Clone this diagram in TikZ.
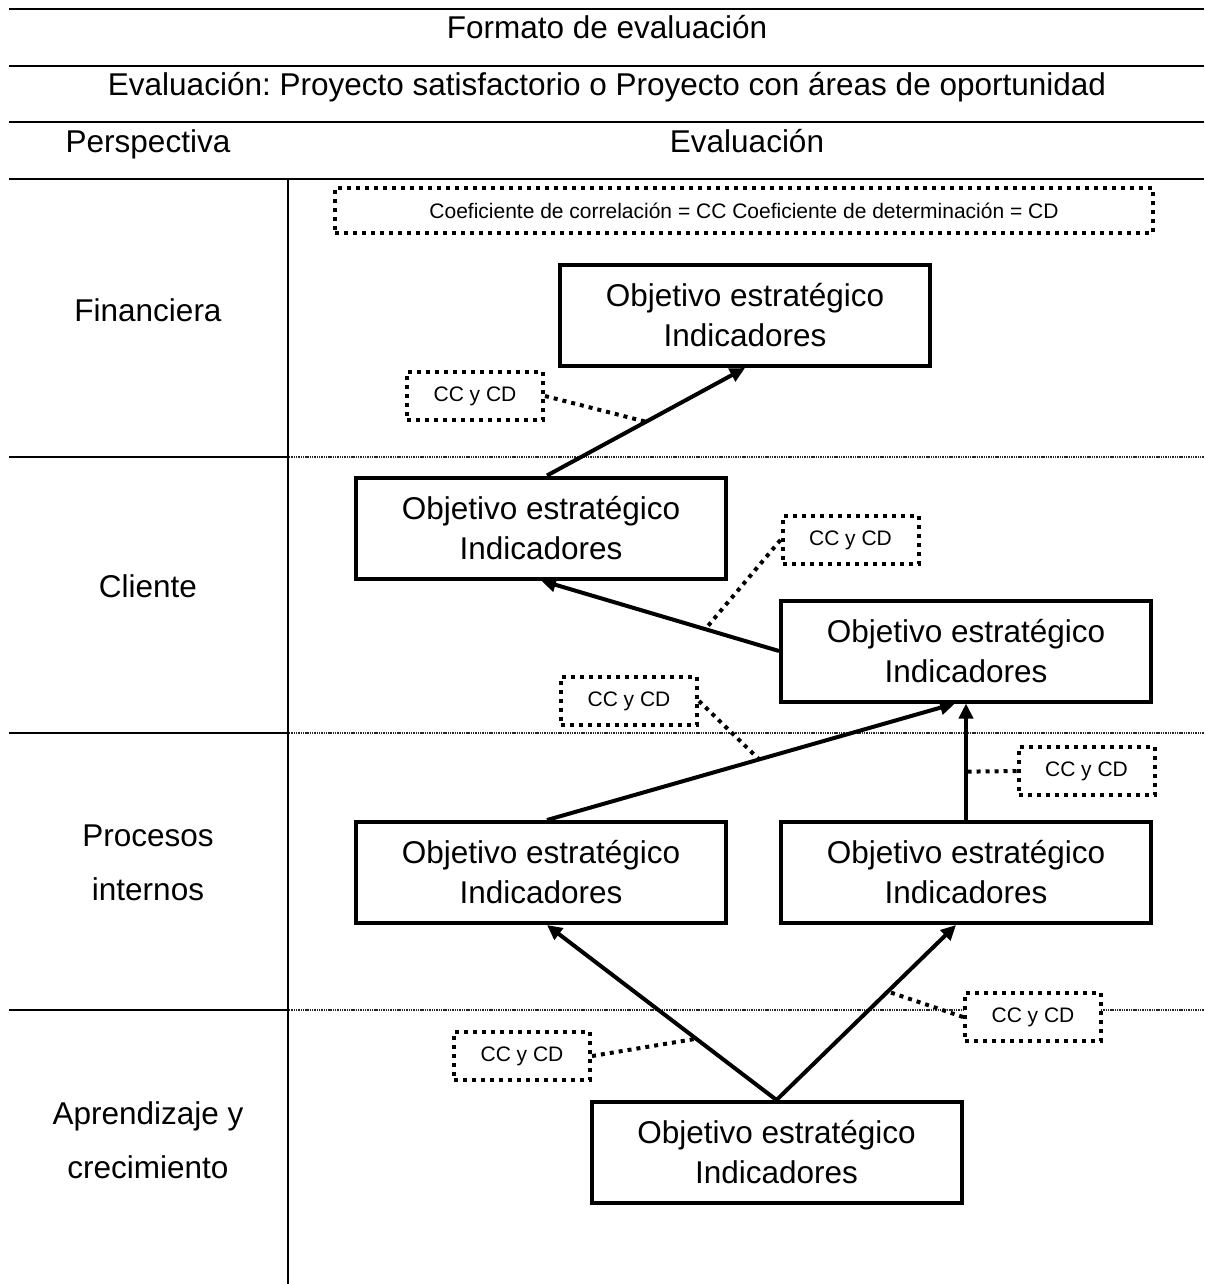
\documentclass[tikz,border=0pt]{standalone}
\usepackage{fontspec}
\setmainfont{Liberation Sans}
\usetikzlibrary{arrows.meta,calc}
\frenchspacing

\begin{document}
\begin{tikzpicture}[x=1pt,y=-1pt,
  rule/.style={line width=2pt},
  band/.style={line width=1.3pt, black!85, dash pattern=on 1.4pt off 0.9pt},
  bigtext/.style={font=\fontsize{31.5}{40}\selectfont, inner sep=0pt},
  sidelabel/.style={font=\fontsize{31.5}{54}\selectfont, align=center, inner sep=0pt},
  objbox/.style={draw, line width=4pt, minimum width=370pt, minimum height=101pt,
    align=center, inner sep=0pt, fill=white, font=\fontsize{31.5}{40}\selectfont},
  notebox/.style={draw, line width=4pt, dash pattern=on 4pt off 5pt, fill=white,
    minimum width=136pt, minimum height=48pt, inner sep=0pt,
    font=\fontsize{21}{25}\selectfont},
  link/.style={line width=4pt, -{Triangle[length=15pt,width=14pt]}},
  tie/.style={line width=4pt, dash pattern=on 4pt off 5pt},
]
\useasboundingbox (0,0) rectangle (1204,1284);

% table rules
\draw[rule] (9,9) -- (1204,9);
\draw[rule] (9,66) -- (1204,66);
\draw[rule] (9,122) -- (1204,122);
\draw[rule] (9,179) -- (1204,179);
\draw[rule] (288,179) -- (288,1284);
\foreach \yy in {457,733,1010}{
  \draw[rule] (9,\yy) -- (288,\yy);
  \draw[band] (289,\yy) -- (1204,\yy);
}

% header texts
\node[bigtext, anchor=base] (title) at (607,39) {Formato de evaluación};
\node[bigtext, anchor=base] (scale) at (607,96) {Evaluación: Proyecto satisfactorio o Proyecto con áreas de oportunidad};
\node[bigtext, anchor=base] (hpersp) at (148,153) {Perspectiva};
\node[bigtext, anchor=base] (heval) at (747,153) {Evaluación};

% perspectives
\node[bigtext, anchor=base] (pfin) at (148,321) {Financiera};
\node[bigtext, anchor=base] (pcli) at (148,597) {Cliente};
\node[sidelabel] (pproc) at (148,863) {Procesos\\internos};
\node[sidelabel] (papr) at (148,1140) {Aprendizaje y\\crecimiento};

% legend
\node[notebox, minimum width=818pt, minimum height=45pt] (legend) at (744,210.5)
  {Coeficiente de correlación = CC Coeficiente de determinación = CD};

% strategic objectives
\node[objbox] (B1) at (745,315.5) {Objetivo estratégico\\Indicadores};
\node[objbox] (B2) at (541,528) {Objetivo estratégico\\Indicadores};
\node[objbox] (B3) at (966,651) {Objetivo estratégico\\Indicadores};
\node[objbox] (B4) at (541,872.5) {Objetivo estratégico\\Indicadores};
\node[objbox] (B5) at (966,872.5) {Objetivo estratégico\\Indicadores};
\node[objbox] (B6) at (776.5,1152.5) {Objetivo estratégico\\Indicadores};

% cause-effect links
\draw[link] ([xshift=6pt]B2.north) -- coordinate[pos=0.5] (t1) (B1.south);
\draw[link] (B3.west) -- coordinate[pos=0.31] (t2) (B2.south);
\draw[link] ([xshift=6pt]B4.north) -- coordinate[pos=0.52] (t3) ([xshift=-11pt]B3.south);
\draw[link] (B5.north) -- coordinate[pos=0.415] (t4) (B3.south);
\draw[link] (B6.north) -- coordinate[pos=0.35] (t5) ([xshift=6pt]B4.south);
\draw[link] (B6.north) -- coordinate[pos=0.62] (t6) ([xshift=-10pt]B5.south);

% CC y CD notes
\node[notebox] (C1) at (475,396) {CC y CD};
\node[notebox] (C2) at (850.5,540) {CC y CD};
\node[notebox] (C3) at (629,701) {CC y CD};
\node[notebox] (C4) at (1086.5,771) {CC y CD};
\node[notebox] (C5) at (522,1056) {CC y CD};
\node[notebox] (C6) at (1033,1017) {CC y CD};

% note ties
\draw[tie] (C1.east) -- (t1);
\draw[tie] (C2.west) -- (t2);
\draw[tie] (C3.east) -- (t3);
\draw[tie] (C4.west) -- (t4);
\draw[tie] (C5.east) -- (t5);
\draw[tie] (C6.west) -- (t6);
\end{tikzpicture}
\end{document}
